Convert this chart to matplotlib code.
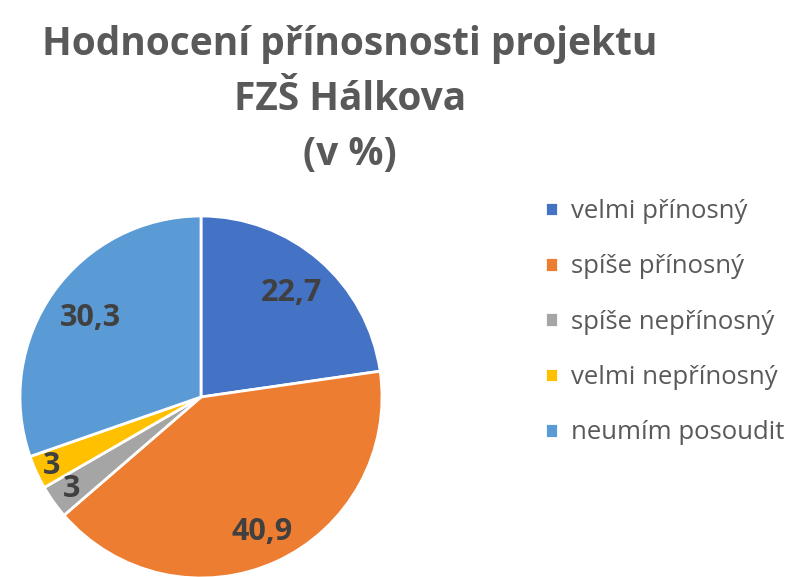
import matplotlib.pyplot as plt
import numpy as np

# data
labels = ["velmi přínosný", "spíše přínosný", "spíše nepřínosný",
          "velmi nepřínosný", "neumím posoudit"]
values = [22.7, 40.9, 3, 3, 30.3]
value_text = ["22,7", "40,9", "3", "3", "30,3"]
colors = ["#4472C4", "#ED7D31", "#A5A5A5", "#FFC000", "#5B9BD5"]
label_radius = [0.76, 0.82, 0.88, 0.91, 0.75]

text_font = ["Open Sans", "DejaVu Sans"]

W, H = 803, 577
fig = plt.figure(figsize=(W / 100, H / 100), dpi=100)

# pie centre ~ (201, 397) px, radius ~181 px
cx, cy, r = 201, 397, 181
ax = fig.add_axes([(cx - r) / W, (H - cy - r) / H, 2 * r / W, 2 * r / H])
wedges, _ = ax.pie(values, colors=colors, startangle=90, counterclock=False,
                   radius=1, wedgeprops=dict(edgecolor="white", linewidth=2))
ax.set_xlim(-1.0, 1.0)
ax.set_ylim(-1.0, 1.0)
ax.set_aspect("equal")

for w, txt, d in zip(wedges, value_text, label_radius):
    ang = np.deg2rad((w.theta1 + w.theta2) / 2)
    ax.text(d * np.cos(ang), d * np.sin(ang), txt, ha="center", va="center",
            fontsize=22, fontweight="bold", color="#404040", family=text_font)

# title
title_lines = ["Hodnocení přínosnosti projektu", "FZŠ Hálkova", "(v %)"]
for i, line in enumerate(title_lines):
    fig.text(350 / W, 1 - (44 + 55 * i) / H, line, ha="center", va="center",
             fontsize=28, fontweight="bold", color="#595959", family=text_font)

leg = fig.legend(wedges, labels, loc="upper left",
                 bbox_to_anchor=(522 / W, 1 - 176 / H), frameon=False,
                 handlelength=0.5, handleheight=0.5, handletextpad=0.5,
                 labelspacing=1.18, prop=dict(family=text_font, size=18.5))
for t in leg.get_texts():
    t.set_color("#595959")

fig.savefig("out.png", dpi=100)
